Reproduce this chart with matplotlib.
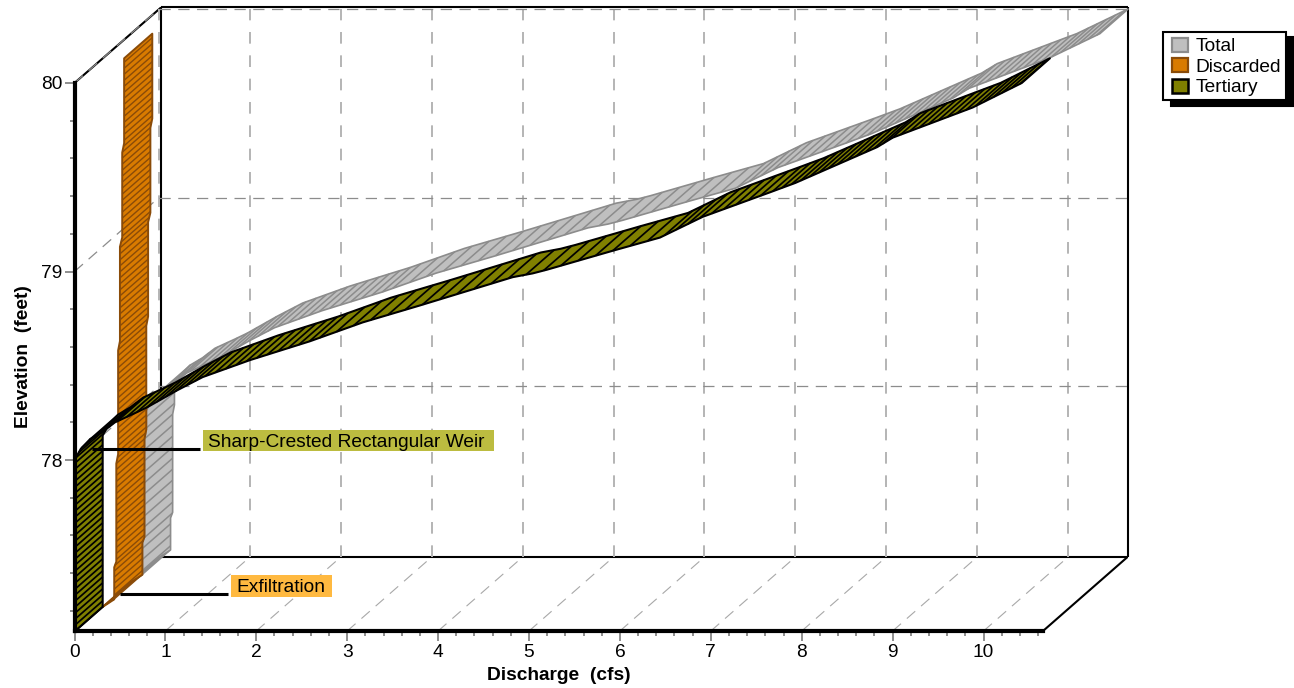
import numpy as np
import matplotlib
matplotlib.use("Agg")
import matplotlib.pyplot as plt
from matplotlib.patches import Patch, Polygon, Rectangle
from matplotlib.lines import Line2D
from matplotlib.legend_handler import HandlerPatch

plt.rcParams['font.family'] = ['Liberation Sans', 'DejaVu Sans']

# ---- data -----
tertiary_elev = [77.09, 78.00, 78.06, 78.11, 78.15, 78.20, 78.25, 78.28, 78.37, 78.44, 78.53, 78.63, 78.73, 78.82, 78.97,
                 78.99, 79.01, 79.11, 79.18, 79.29, 79.42, 79.47, 79.66, 79.71, 79.87, 80.00]
tertiary_q = [0, 0, 0.07, 0.17, 0.31, 0.445, 0.67, 0.80, 1.13, 1.41, 1.93, 2.59, 3.17, 3.80, 4.82,
              5.04, 5.20, 5.92, 6.44, 6.91, 7.65, 7.93, 8.83, 9.00, 9.88, 10.42]
discarded_elev = [77.09, 77.13, 77.30, 77.33, 77.85, 77.90, 78.45, 78.50, 79.00, 79.05, 79.50, 79.55, 80.00]
discarded_q = [0, 0.127, 0.127, 0.15, 0.15, 0.17, 0.17, 0.19, 0.19, 0.215, 0.215, 0.236, 0.236]
total_elev = [77.09, 77.13, 77.30, 77.33, 77.85, 77.90, 78.00, 78.06, 78.11, 78.15, 78.20, 78.25, 78.28, 78.37, 78.44, 78.53, 78.63,
              78.73, 78.82, 78.97, 78.99, 79.01, 79.11, 79.18, 79.29, 79.42, 79.47, 79.66, 79.71, 79.87, 80.00]
total_q = [0, 0.127, 0.127, 0.15, 0.15, 0.17, 0.17, 0.24, 0.34, 0.48, 0.615, 0.84, 0.97, 1.30, 1.58, 2.10, 2.77,
           3.36, 4.00, 5.03, 5.25, 5.41, 6.13, 6.65, 7.12, 7.87, 8.15, 9.05, 9.22, 10.10, 10.66]
series_names = ['Total', 'Discarded', 'Tertiary']
x_ticks = list(range(0, 11))
y_ticks = [78, 79, 80]
xlabel = 'Discharge  (cfs)'
ylabel = 'Elevation  (feet)'
callouts = ['Sharp-Crested Rectangular Weir', 'Exfiltration']

# ---- styles / layout -----
W, H = 1294, 688
XMAX, YMIN, YMAX = 10.654, 77.093, 80.0
DQ, DE = 84.5 / 90.9, 74 / 188.5     # full depth of the box, in data units
GREY, ORANGE, OLIVE = '#bfbfbf', '#d97b00', '#808000'
GREY_E, ORANGE_E, OLIVE_E = '#8c8c8c', '#8a4b08', '#000000'
FS = 13.8
FSB = 13.8

fig = plt.figure(figsize=(W / 100, H / 100), dpi=100)
ax = fig.add_axes([74.5 / W, (H - 631) / H, 968.5 / W, 548 / H])
ax.set_xlim(0, XMAX)
ax.set_ylim(YMIN, YMAX)
ax.patch.set_visible(False)


def proj(q, e, d):
    return q + d * DQ, e + d * DE


def seg(q0, e0, d0, q1, e1, d1, **kw):
    a, b = proj(q0, e0, d0), proj(q1, e1, d1)
    ax.plot([a[0], b[0]], [a[1], b[1]], clip_on=False, solid_capstyle='butt', **kw)


# ---- walls and grid -----
BLK = dict(color='black', lw=1.5, zorder=1)
LEFT, TOP = 0.022, YMAX + 0.008
seg(LEFT, YMIN, 1, XMAX, YMIN, 1, **BLK)
seg(LEFT, TOP, 1, XMAX, TOP, 1, **BLK)
seg(LEFT, YMIN, 1, LEFT, TOP, 1, **BLK)
seg(XMAX, YMIN, 1, XMAX, TOP, 1, **BLK)
seg(0, YMAX, 0, LEFT, TOP, 1, **BLK)
seg(XMAX, YMIN, 0, XMAX, YMIN, 1, **BLK)

VD = dict(color='#b4b4b4', lw=1.4, ls=(0, (6, 6)), zorder=1.2)
HD = dict(color='#8c8c8c', lw=0.9, ls=(0, (9, 6)), zorder=1.2)
FD = dict(color='#a8a8a8', lw=0.8, ls=(0, (10, 7)), zorder=1.2)
for q in x_ticks:
    seg(q, YMIN, 1, q, YMAX, 1, **VD)
    if q > 0:
        seg(q, YMIN, 0, q, YMIN, 1, **FD)
for e in y_ticks:
    seg(0, e, 1, XMAX, e, 1, **HD)
    seg(0, e, 0, 0, e, 1, **HD)


# ---- ribbons -----
def ribbon(qs, es, d0, d1, fill, edge, elw, hlw, spacing, z):
    qs, es = np.asarray(qs, float), np.asarray(es, float)
    front = np.column_stack(proj(qs, es, d0))
    back = np.column_stack(proj(qs, es, d1))
    ax.add_patch(Polygon(np.vstack([front, back[::-1]]), closed=True, facecolor=fill,
                         edgecolor=edge, lw=elw, zorder=z, clip_on=False, joinstyle='round'))
    sx, sy = 968.5 / XMAX, 548 / (YMAX - YMIN)
    carry = 0.0
    for i in range(len(qs) - 1):
        L = np.hypot((qs[i + 1] - qs[i]) * sx, (es[i + 1] - es[i]) * sy)
        if L < 1:
            continue
        sp = spacing(0.5 * (qs[i] + qs[i + 1]))
        pos = carry
        while pos < L:
            t = pos / L
            q, e = qs[i] + t * (qs[i + 1] - qs[i]), es[i] + t * (es[i + 1] - es[i])
            seg(q, e, d0, q, e, d1, color=edge, lw=hlw, zorder=z + 0.01)
            pos += sp
        carry = pos - L


def spacing_curve(q):
    if q < 0.1:
        return 6.0
    if q < 2.6:
        return 11
    if q < 6.4:
        return 18
    if q < 7.7:
        return 13
    return 10


ribbon(total_q, total_elev, 2 / 3, 1, GREY, GREY_E, 1.2, 1.1, spacing_curve, 3)
ribbon(discarded_q, discarded_elev, 1 / 3, 2 / 3, ORANGE, ORANGE_E, 1.4, 1.0, lambda q: 6.0, 4)
ribbon(tertiary_q, tertiary_elev, 0, 1 / 3, OLIVE, OLIVE_E, 1.5, 1.25, spacing_curve, 5)

# ---- axes -----
for s in ('top', 'right'):
    ax.spines[s].set_visible(False)
for s in ('left', 'bottom'):
    ax.spines[s].set_linewidth(3.0)
    ax.spines[s].set_zorder(6)
ax.set_xticks(x_ticks)
ax.set_yticks(y_ticks)
ax.set_xticks(np.arange(0, XMAX, 0.2), minor=True)
ax.set_yticks(np.arange(77.2, 80, 0.2), minor=True)
ax.tick_params(which='major', length=7.5, width=1.1, color='#707070', labelsize=FS,
               labelcolor='black')
ax.tick_params(axis='x', which='major', pad=2)
ax.tick_params(axis='y', which='major', pad=1.5)
ax.tick_params(which='minor', length=3.8, width=1.1, color='#707070')
ax.set_xlabel(xlabel, fontsize=FSB, fontweight='bold')
ax.set_ylabel(ylabel, fontsize=FSB, fontweight='bold')
ax.xaxis.set_label_coords(0.5, -36 / 548)
ax.yaxis.set_label_coords(-42 / 968.5, 0.5)


# ---- callouts -----
def fx(x):
    return x / W


def fy(y):
    return 1 - y / H


def callout(text, x0, y0, x1, y1, color, lx0, lx1, ly, tx):
    fig.add_artist(Rectangle((fx(x0), fy(y1)), (x1 - x0) / W, (y1 - y0) / H, transform=fig.transFigure,
                             facecolor=color, edgecolor='none', zorder=7))
    fig.add_artist(Line2D([fx(lx0), fx(lx1)], [fy(ly), fy(ly)], transform=fig.transFigure,
                          color='black', lw=2.2, zorder=7, solid_capstyle='butt'))
    fig.text(fx(tx), fy((y0 + y1) / 2), text, fontsize=FS, va='center_baseline', ha='left', zorder=8)


callout(callouts[0], 203, 430, 494, 451, '#bcbc40', 92, 200, 449, 208)
callout(callouts[1], 231, 575, 332, 597, '#ffb940', 120, 228, 594, 236)


# ---- legend -----
def swatch(legend, orig_handle, xdescent, ydescent, width, height, fontsize):
    return Rectangle((2.9, -1.2), 11.9, 10.0)


handles = [Patch(facecolor=GREY, edgecolor=GREY_E, lw=1.6),
           Patch(facecolor=ORANGE, edgecolor=ORANGE_E, lw=1.6),
           Patch(facecolor=OLIVE, edgecolor='black', lw=1.8)]
leg = fig.legend(handles, series_names, loc='upper left',
                 bbox_to_anchor=(fx(1162.5), fy(31.5)), fontsize=FS, frameon=True, fancybox=False,
                 edgecolor='black', facecolor='white', framealpha=1, borderaxespad=0,
                 handlelength=1.08, handleheight=0.75, handletextpad=0.4, labelspacing=0.14,
                 borderpad=0.26, handler_map={Patch: HandlerPatch(patch_func=swatch)},
                 shadow={'ox': 5.8, 'oy': -4.2, 'color': 'black', 'alpha': 1})
for t in leg.get_texts():
    t.set_y(-1.2)
leg.get_frame().set_linewidth(1.5)
leg.set_zorder(9)

fig.savefig('out.png', dpi=100)
